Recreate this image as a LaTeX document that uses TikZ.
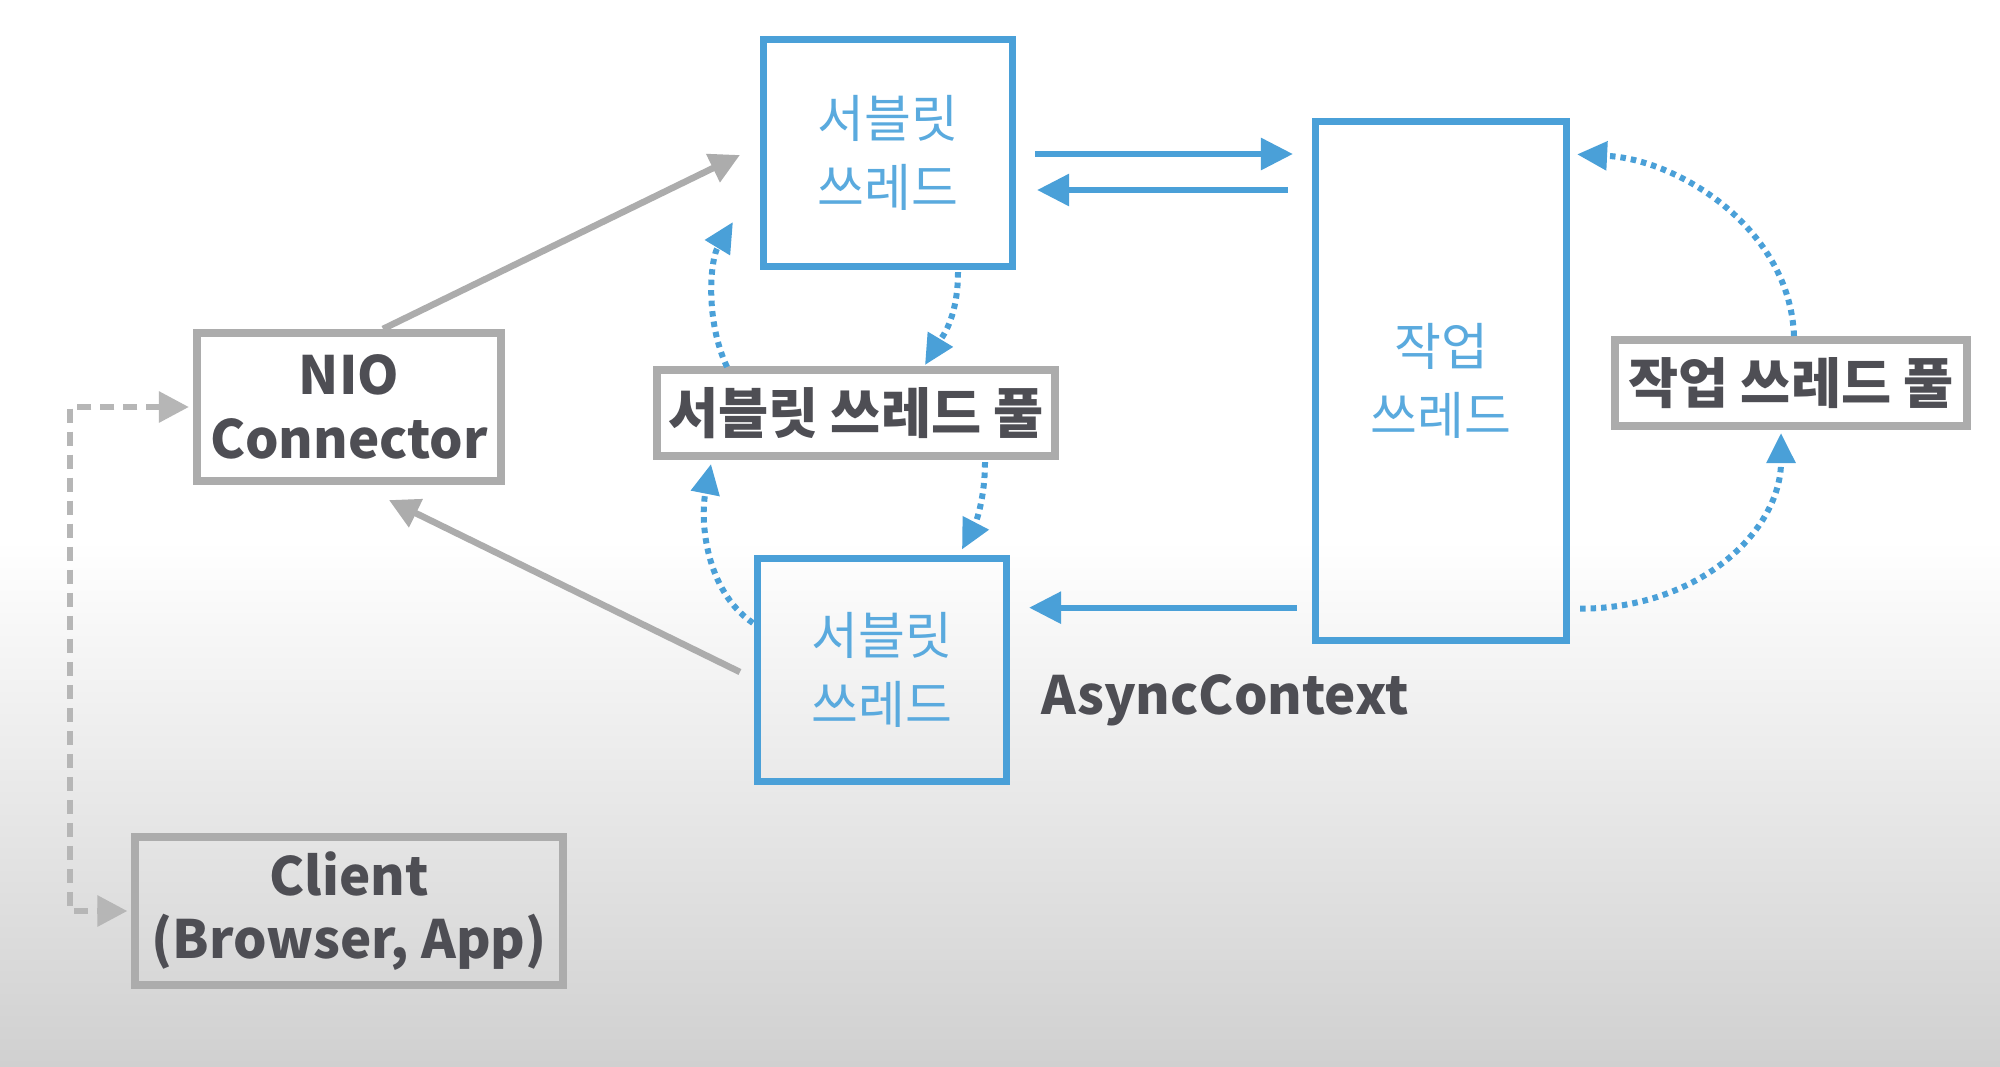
\documentclass[tikz,border=0pt]{standalone}
\usepackage{fontspec}
\setmainfont{Noto Sans CJK KR}
\usetikzlibrary{arrows.meta,calc}
\definecolor{bl}{RGB}{74,160,216}
\definecolor{bltext}{RGB}{90,170,222}
\definecolor{gb}{RGB}{172,172,172}
\definecolor{gdsh}{RGB}{182,182,182}
\definecolor{dk}{RGB}{78,78,84}
\definecolor{bot}{RGB}{208,208,208}
\begin{document}
\begin{tikzpicture}[x=0.01cm,y=-0.01cm,
  bbox/.style={draw=bl, line width=0.07cm, inner sep=0pt, align=center, text=bltext, font=\fontsize{14.5}{19.5}\selectfont},
  gbox/.style={draw=gb, line width=0.08cm, inner sep=0pt, align=center, text=dk, font=\bfseries\fontsize{15}{18}\selectfont},
  pbox/.style={gbox, font=\bfseries\fontsize{15.5}{18}\selectfont},
  barrow/.style={draw=bl, line width=0.06cm, -{Triangle[length=0.32cm,width=0.31cm]}},
  garrow/.style={draw=gb, line width=0.065cm, -{Triangle[length=0.3cm,width=0.3cm]}},
  gdash/.style={draw=gdsh, line width=0.06cm, dash pattern=on 0.14cm off 0.09cm, {Triangle[length=0.3cm,width=0.3cm]}-{Triangle[length=0.3cm,width=0.3cm]}},
  bdot/.style={draw=bl, line width=0.06cm, dash pattern=on 0.055cm off 0.05cm, -{Triangle[length=0.3cm,width=0.28cm]}}
]
\useasboundingbox (0,0) rectangle (2000,1066);
\fill[white] (0,0) rectangle (2000,541);
\fill[top color=white, bottom color=bot] (0,540) rectangle (2000,1066);

% nodes
\node[bbox, minimum width=2.49cm, minimum height=2.27cm] (s1) at (888,153) {서블릿\\쓰레드};
\node[bbox, minimum width=2.49cm, minimum height=2.22cm] (s2) at (882,670) {서블릿\\쓰레드};
\node[bbox, minimum width=2.51cm, minimum height=5.18cm] (w) at (1441,381) {작업\\쓰레드};
\node[pbox, minimum width=3.97cm, minimum height=0.86cm] (sp) at (856,413) {서블릿 쓰레드 풀};
\node[pbox, minimum width=3.52cm, minimum height=0.86cm] (wp) at (1791,383) {작업 쓰레드 풀};
\node[gbox, minimum width=3.04cm, minimum height=1.48cm] (nio) at (349,407) {NIO\\Connector};
\node[gbox, minimum width=4.27cm, minimum height=1.47cm] (client) at (349,911) {Client\\(Browser, App)};
\node[text=dk, font=\bfseries\fontsize{15}{18}\selectfont] (async) at (1225,700) {AsyncContext};

% solid blue arrows
\draw[barrow] ($(s1.east)+(19,1)$) -- ($(w.west |- s1.east)+(-19,1)$);
\draw[barrow] ($(w.west |- s1.east)+(-24,37)$) -- ($(s1.east)+(21,37)$);
\draw[barrow] ($(w.south west)+(-15,-36)$) -- ($(s2.east |- w.south west)+(19,-36)$);

% gray arrows
\draw[garrow] ($(nio.north)+(34,0)$) -- ($(s1.west)+(-20,2)$);
\draw[garrow] ($(s2.west)+(-14,2)$) -- ($(nio.south)+(40,15)$);

% gray dashed
\coordinate (d1) at (70,407);
\coordinate (d2) at (70,911);
\draw[gdash, shorten <=0.04cm, shorten >=0.04cm] (nio.west) -- (d1) -- (d2) -- (client.west);

% blue dotted curves
\draw[bdot] ($(s1.south)+(70,2)$) .. controls +(0,48) and +(15,-25) .. ($(sp.north)+(69,-1)$);
\draw[bdot] ($(sp.north)+(-129,1)$) .. controls +(-22,-47) and +(-23,38) .. ($(s1.west)+(-27,69)$);
\draw[bdot] ($(sp.south)+(129,2)$) .. controls +(0,38) and +(13,-25) .. ($(s2.north)+(80,-6)$);
\draw[bdot] ($(s2.west)+(-1,-47)$) .. controls +(-48,-33) and +(-11,56) .. ($(sp.south)+(-145,4)$);
\draw[bdot] ($(wp.north)+(3,0)$) .. controls +(-4,-106) and +(103,5) .. ($(w.north east)+(7,36)$);
\draw[bdot] ($(w.south east)+(10,-35)$) .. controls +(120,0) and +(0,97) .. ($(wp.south)+(-10,3)$);
\end{tikzpicture}
\end{document}
